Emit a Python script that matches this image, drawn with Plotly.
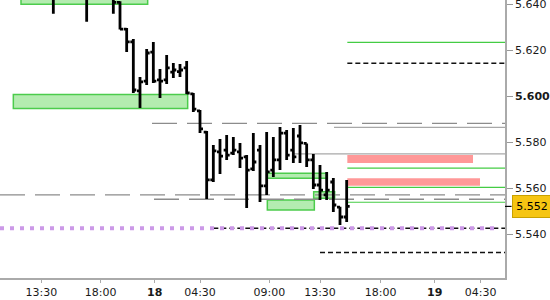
import plotly.graph_objects as go

# ---- data -------------------------------------------------------------
slots = [8, 13, 17, 18, 19, 20, 21, 22, 23, 24, 25, 26, 27, 28, 29, 30, 31, 32, 33, 34,
         35, 36, 37, 38, 39, 40, 41, 42, 43, 44, 45, 46, 47, 48, 49, 50, 51, 52]
opens = [5.6455, 5.6440, 5.6460, 5.6407, 5.6291, 5.6235, 5.6022, 5.6065, 5.6191, 5.6070,
         5.6070, 5.6104, 5.6106, 5.6122, 5.6009, 5.5935, 5.5843, 5.5635, 5.5757, 5.5765,
         5.5752, 5.5757, 5.5735, 5.5683, 5.5765, 5.5609, 5.5678, 5.5722, 5.5839, 5.5765,
         5.5826, 5.5794, 5.5722, 5.5613, 5.5570, 5.5626, 5.5517, 5.5474]
highs = [5.6480, 5.6470, 5.6480, 5.6412, 5.6296, 5.6248, 5.6083, 5.6204, 5.6235, 5.6117,
         5.6178, 5.6143, 5.6139, 5.6152, 5.6013, 5.5939, 5.5848, 5.5787, 5.5813, 5.5830,
         5.5822, 5.5796, 5.5743, 5.5839, 5.5787, 5.5843, 5.5822, 5.5865, 5.5852, 5.5861,
         5.5874, 5.5794, 5.5748, 5.5700, 5.5670, 5.5643, 5.5518, 5.5635]
lows = [5.6358, 5.6323, 5.6358, 5.6289, 5.6191, 5.6013, 5.5948, 5.6048, 5.6057, 5.5991,
        5.6052, 5.6078, 5.6083, 5.6009, 5.5930, 5.5839, 5.5552, 5.5626, 5.5661, 5.5722,
        5.5743, 5.5687, 5.5513, 5.5674, 5.5539, 5.5570, 5.5648, 5.5678, 5.5722, 5.5709,
        5.5709, 5.5691, 5.5596, 5.5548, 5.5548, 5.5496, 5.5439, 5.5452]
closes = [5.6445, 5.6430, 5.6407, 5.6291, 5.6235, 5.6026, 5.6061, 5.6187, 5.6065, 5.6065,
          5.6122, 5.6113, 5.6113, 5.6013, 5.5943, 5.5857, 5.5635, 5.5761, 5.5739, 5.5743,
          5.5765, 5.5730, 5.5678, 5.5713, 5.5609, 5.5670, 5.5722, 5.5839, 5.5743, 5.5735,
          5.5796, 5.5722, 5.5613, 5.5591, 5.5591, 5.5526, 5.5474, 5.5520]

last_price = 5.552

x_tick_vals = [6.2, 15.1, 23.2, 30.0, 40.4, 48.0, 57.1, 65.2, 72.1]
x_tick_text = ["13:30", "18:00", "<b>18</b>", "04:30", "09:00", "13:30", "18:00", "<b>19</b>", "04:30"]
y_tick_vals = [5.54, 5.56, 5.58, 5.60, 5.62, 5.64]
y_tick_text = ["5.540", "5.560", "5.580", "<b>5.600</b>", "5.620", "5.640"]

X_MAX = 75.75
Y_MIN, Y_MAX = 5.52087, 5.64174

# zones: (x_start, x_end, y_low, y_high)
green_zones = [(3.15, 22.15, 5.6399, 5.6600), (2.0, 28.15, 5.5946, 5.6007),
               (40.1, 49.1, 5.5642, 5.5664), (40.1, 47.15, 5.5504, 5.5548),
               (47.05, 50.2, 5.5555, 5.5584)]
red_zones = [(52.1, 70.95, 5.5709, 5.5743), (52.1, 72.0, 5.5610, 5.5642)]
green_levels = [5.6233, 5.5686, 5.5603, 5.5538]
green_levels_start = 52.1
black_dash_levels = [(52.1, 5.6142), (48.0, 5.5320), (32.0, 5.5425)]
purple_level = (0.0, 75.0, 5.5425)
gray_dash_levels = [(22.8, 5.5881), (0.0, 5.5570), (23.1, 5.5551)]
gray_solid_levels = [(50.1, 5.5864), (44.1, 5.5748)]

fig = go.Figure()

shapes = []
for x0, x1, y0, y1 in green_zones:
    shapes.append(dict(type="rect", x0=x0, x1=x1, y0=y0, y1=y1, layer="below",
                       fillcolor="#b4ecb0", line=dict(color="#4ccc4c", width=1.5)))
for x0, x1, y0, y1 in red_zones:
    shapes.append(dict(type="rect", x0=x0, x1=x1, y0=y0, y1=y1, layer="below",
                       fillcolor="#ff9898", line=dict(width=0)))
for y in green_levels:
    shapes.append(dict(type="line", x0=green_levels_start, x1=X_MAX, y0=y, y1=y, layer="below",
                       line=dict(color="#44cc44", width=1.2)))
for x0, y in gray_dash_levels:
    shapes.append(dict(type="line", x0=x0, x1=X_MAX, y0=y, y1=y, layer="below",
                       line=dict(color="#8c8c8c", width=1.3, dash="25px,10px")))
for x0, y in gray_solid_levels:
    shapes.append(dict(type="line", x0=x0, x1=X_MAX, y0=y, y1=y, layer="below",
                       line=dict(color="#a8a8a8", width=1.3)))
for x0, y in black_dash_levels:
    shapes.append(dict(type="line", x0=x0, x1=X_MAX, y0=y, y1=y, layer="below",
                       line=dict(color="#111111", width=1.5, dash="5px,3px")))
px0, px1, py = purple_level
shapes.append(dict(type="line", x0=px0, x1=px1, y0=py, y1=py, layer="below",
                   line=dict(color="#cc99e8", width=4, dash="4px,6px")))
# last price tick on axis
shapes.append(dict(type="line", xref="paper", x0=1.0, x1=1.013, y0=last_price, y1=last_price,
                   line=dict(color="#000000", width=1.2)))

fig.add_trace(go.Ohlc(
    x=slots, open=opens, high=highs, low=lows, close=closes,
    increasing=dict(line=dict(color="#000000", width=2.8)),
    decreasing=dict(line=dict(color="#000000", width=2.8)),
    tickwidth=0.45, showlegend=False, hoverinfo="skip"))

fig.add_annotation(xref="paper", x=1.0, xanchor="left", xshift=7, y=last_price, yref="y",
                   text="5.552", showarrow=False, bgcolor="#f6c512", bordercolor="#c9a100",
                   borderwidth=1, borderpad=2, width=34, height=17,
                   font=dict(family="DejaVu Sans", size=11, color="#000000"))

fig.update_layout(
    width=550, height=300, margin=dict(l=0, r=45, t=0, b=22, autoexpand=False),
    paper_bgcolor="white", plot_bgcolor="white", shapes=shapes,
    font=dict(family="DejaVu Sans", size=11, color="#1a1a1a"),
    xaxis=dict(range=[0, X_MAX], rangeslider=dict(visible=False), showgrid=False, zeroline=False,
               tickmode="array", tickvals=x_tick_vals, ticktext=x_tick_text, automargin=False,
               ticks="outside", ticklen=3, tickcolor="#aaaaaa", showline=True, linecolor="#aaaaaa",
               linewidth=1.5, tickfont=dict(size=11)),
    yaxis=dict(range=[Y_MIN, Y_MAX], side="right", showgrid=False, zeroline=False,
               tickmode="array", tickvals=y_tick_vals, ticktext=y_tick_text, automargin=False,
               ticks="outside", ticklen=6, tickcolor="#999999", showline=True, linecolor="#aaaaaa",
               linewidth=1.5, ticklabeloverflow="allow", ticklabelstandoff=0,
               tickfont=dict(size=11)),
)

fig.write_html("out.html")
